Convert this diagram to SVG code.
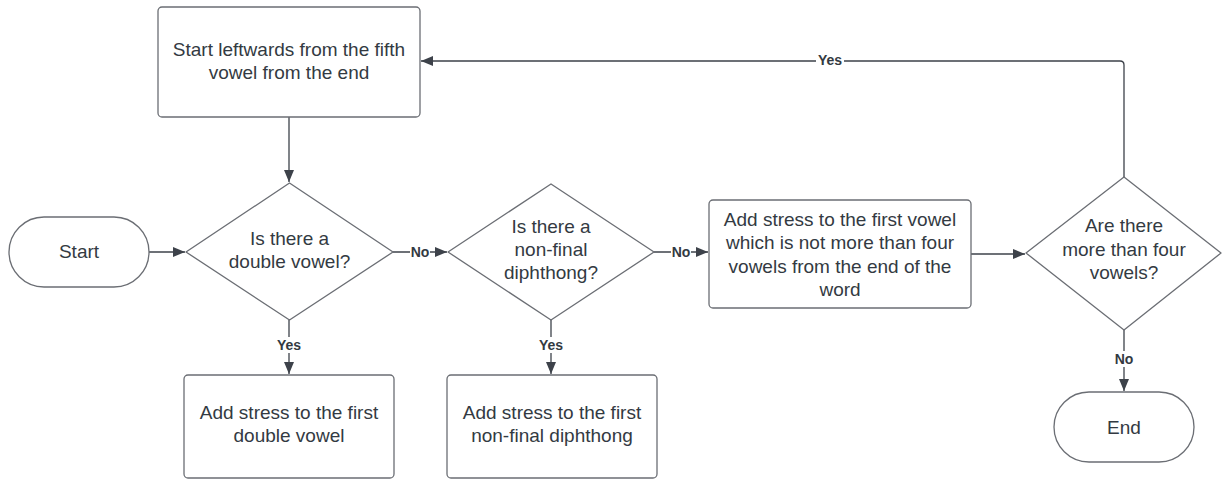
<svg xmlns="http://www.w3.org/2000/svg" width="1222" height="479" viewBox="0 0 1222 479">
<style>
.shape{fill:#ffffff;stroke:#6b6e74;stroke-width:1.3}
.t{font-family:"Liberation Sans",Arial,sans-serif;font-size:19px;fill:#333a42;text-anchor:middle}
.lbl{font-family:"Liberation Sans",Arial,sans-serif;font-size:14px;font-weight:bold;fill:#333a42;text-anchor:middle}
.c{fill:none;stroke:#3d424a;stroke-width:1.3}
.bg{fill:#ffffff}
</style>
<defs>
<marker id="arr" viewBox="0 0 12 10" refX="12" refY="5" markerWidth="12" markerHeight="10" markerUnits="userSpaceOnUse" orient="auto">
<path d="M0,0 L12,5 L0,10 z" fill="#3d424a"/>
</marker>
</defs>
<rect width="1222" height="479" fill="#ffffff"/>
<g id="connectors">
<path class="c" d="M289,117 V182" marker-end="url(#arr)"/>
<path class="c" d="M149,252 H185" marker-end="url(#arr)"/>
<path class="c" d="M393,252 H447" marker-end="url(#arr)"/>
<path class="c" d="M654,252 H708" marker-end="url(#arr)"/>
<path class="c" d="M971,254 H1025" marker-end="url(#arr)"/>
<path class="c" d="M289,320 V374" marker-end="url(#arr)"/>
<path class="c" d="M551,320 V374" marker-end="url(#arr)"/>
<path class="c" d="M1124,330 V391" marker-end="url(#arr)"/>
<path class="c" d="M1124,177 V65 Q1124,61 1120,61 H421" marker-end="url(#arr)"/>
<rect class="bg" x="410" y="244" width="20" height="16"/>
<text class="lbl" x="420" y="257">No</text>
<rect class="bg" x="671" y="244" width="20" height="16"/>
<text class="lbl" x="681" y="257">No</text>
<rect class="bg" x="276" y="337" width="26" height="16"/>
<text class="lbl" x="289" y="350">Yes</text>
<rect class="bg" x="538" y="337" width="26" height="16"/>
<text class="lbl" x="551" y="350">Yes</text>
<rect class="bg" x="1113" y="351" width="22" height="16"/>
<text class="lbl" x="1124" y="364">No</text>
<rect class="bg" x="816" y="53" width="28" height="16"/>
<text class="lbl" x="830" y="65">Yes</text>
</g>
<g id="start-node">
<rect class="shape" x="9" y="217" width="140" height="70" rx="35" ry="35"/>
<text class="t" x="79" y="258">Start</text>
</g>
<g id="fifth-vowel">
<rect class="shape" x="158" y="7" width="262" height="110" rx="4"/>
<text class="t" x="289" y="56">Start leftwards from the fifth</text>
<text class="t" x="289" y="79">vowel from the end</text>
</g>
<g id="double-vowel-q">
<path class="shape" d="M289.5,183 L393,252 L289.5,320 L186,252 Z" stroke-linejoin="round"/>
<text class="t" x="289.5" y="245">Is there a</text>
<text class="t" x="289.5" y="268">double vowel?</text>
</g>
<g id="diphthong-q">
<path class="shape" d="M551,184 L654,252 L551,320 L448,252 Z" stroke-linejoin="round"/>
<text class="t" x="551" y="233">Is there a</text>
<text class="t" x="551" y="256">non-final</text>
<text class="t" x="551" y="279">diphthong?</text>
</g>
<g id="four-vowels-stress">
<rect class="shape" x="709" y="200" width="262" height="108" rx="4"/>
<text class="t" x="840" y="226">Add stress to the first vowel</text>
<text class="t" x="840" y="249">which is not more than four</text>
<text class="t" x="840" y="273">vowels from the end of the</text>
<text class="t" x="840" y="296">word</text>
</g>
<g id="more-than-four-q">
<path class="shape" d="M1124,177 L1221,253 L1124,330 L1026,253 Z" stroke-linejoin="round"/>
<text class="t" x="1124" y="232">Are there</text>
<text class="t" x="1124" y="256">more than four</text>
<text class="t" x="1124" y="279">vowels?</text>
</g>
<g id="double-vowel-stress">
<rect class="shape" x="184" y="375" width="210" height="103" rx="4"/>
<text class="t" x="289" y="419">Add stress to the first</text>
<text class="t" x="289" y="442">double vowel</text>
</g>
<g id="diphthong-stress">
<rect class="shape" x="447" y="375" width="210" height="103" rx="4"/>
<text class="t" x="552" y="419">Add stress to the first</text>
<text class="t" x="552" y="442">non-final diphthong</text>
</g>
<g id="end-node">
<rect class="shape" x="1054" y="392" width="140" height="70" rx="35" ry="35"/>
<text class="t" x="1124" y="434">End</text>
</g>
</svg>
